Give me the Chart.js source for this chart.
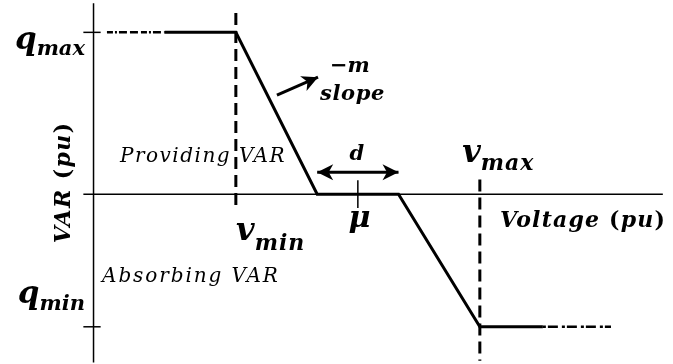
<!DOCTYPE html>
<html>
<head>
<meta charset="utf-8">
<script src="https://cdn.jsdelivr.net/npm/chart.js@4.4.1/dist/chart.umd.min.js"></script>
<style>
  html, body { margin: 0; padding: 0; background: #fff; }
  #wrap { width: 673px; height: 364px; }
</style>
</head>
<body>
<div id="wrap"><canvas id="droopChart" width="673" height="364"></canvas></div>
<script>
// volt-var droop curve with a deadband d around mu
const vMin = 0.94;
const mu = 1.0;
const deadband = 0.04;
const vMax = 1.06;
const qMax = 1.0;
const qMin = -0.82;

// breakpoints of the solid droop curve
const curveV = [0.905, vMin, mu - deadband / 2, mu + deadband / 2, vMax, 1.091];
const curveQ = [qMax, qMax, 0, 0, qMin, qMin];

// dashed continuations at both ends
const leftExtV = [0.8766, 0.905];
const rightExtV = [1.091, 1.1245];

// axes
const axisV = [0.865, 1.15];
const axisQ = [1.18, -1.04];
const qAxisAt = 0.87;
const tickV = [0.865, 0.8735];

// arrows: deadband width and slope pointer
const dArrowV = [mu - deadband / 2, mu + deadband / 2];
const dArrowQ = [0.136, 0.136];
const slopeArrowV = [0.9602, 0.9804];
const slopeArrowQ = [0.612, 0.723];

const pts = (xs, ys) => xs.map((x, i) => ({ x: x, y: Array.isArray(ys) ? ys[i] : ys }));

const line = (data, width, dash, extra) => Object.assign({
  data: data,
  showLine: true,
  borderColor: '#000',
  borderWidth: width,
  borderDash: dash || [],
  borderCapStyle: 'butt',
  pointRadius: 0,
  tension: 0
}, extra || {});

const SERIF = '"DejaVu Serif", serif';

// text runs: [text, font, baseline shift in px, letter spacing]
const bi = (size) => `italic bold ${size}px ${SERIF}`;
const bu = (size) => `bold ${size}px ${SERIF}`;
const it = (size) => `italic ${size}px ${SERIF}`;

const labels = [
  { x: 0.8658, y: 0.896, align: 'right', runs: [['q', bi(31), 0], ['max', bi(21), 6]] },
  { x: 0.8658, y: -0.674, align: 'right', runs: [['q', bi(31), 0], ['min', bi(21), 7]] },
  { x: 0.9401, y: -0.284, align: 'left', runs: [['v', bi(32), 0], ['min', bi(22), 10, 1]] },
  { x: 1.0513, y: 0.198, align: 'left', runs: [['v', bi(32), 0], ['max', bi(22), 8, 1]] },
  { x: mu + 0.0008, y: -0.204, align: 'center', runs: [['μ', bi(30), 0]] },
  { x: mu - 0.0005, y: 0.210, align: 'center', runs: [['d', bi(21), 0]] },
  { x: 0.9863, y: 0.754, align: 'left', runs: [['−', bu(21), 0], ['m', bi(21), 0]] },
  { x: 0.9814, y: 0.581, align: 'left', runs: [['slope', bi(21), 0, 0.6]] },
  { x: 1.0699, y: -0.204, align: 'left', runs: [['Voltage ', bi(22), 0, 1.2], ['(', bu(22), 0, 1.2], ['pu', bi(22), 0, 1.2], [')', bu(22), 0]] },
  { x: 0.8584, y: 0.068, align: 'center', rotate: true, runs: [['VAR ', bi(22), 0, 1.4], ['(', bu(22), 0, 1.4], ['pu', bi(22), 0, 1.4], [')', bu(22), 0]] },
  { x: 0.883, y: 0.198, align: 'left', runs: [['Providing VAR', it(20), 0, 1.5]] },
  { x: 0.8742, y: -0.544, align: 'left', runs: [['Absorbing VAR', it(20), 0, 1.9]] }
];

function drawHead(ctx, x0, y0, x1, y1) {
  const ang = Math.atan2(y1 - y0, x1 - x0);
  const len = 16, half = 8;
  ctx.save();
  ctx.translate(x1, y1);
  ctx.rotate(ang);
  ctx.beginPath();
  ctx.moveTo(0, 0);
  ctx.lineTo(-len, -half);
  ctx.lineTo(-len * 0.72, 0);
  ctx.lineTo(-len, half);
  ctx.closePath();
  ctx.fillStyle = '#000';
  ctx.fill();
  ctx.restore();
}

const annotate = {
  id: 'annotate',
  afterDatasetsDraw(chart) {
    const ctx = chart.ctx;
    const xs = chart.scales.x, ys = chart.scales.y;

    // arrow heads on the arrow datasets
    chart.data.datasets.forEach((ds, i) => {
      if (!ds.heads) return;
      const p = chart.getDatasetMeta(i).data;
      const a = p[0], b = p[p.length - 1];
      drawHead(ctx, a.x, a.y, b.x, b.y);
      if (ds.heads === 'both') drawHead(ctx, b.x, b.y, a.x, a.y);
    });

    labels.forEach(l => {
      const px = xs.getPixelForValue(l.x);
      const py = ys.getPixelForValue(l.y);
      ctx.save();
      ctx.fillStyle = '#000';
      ctx.textBaseline = 'alphabetic';
      const widths = l.runs.map(r => {
        ctx.font = r[1];
        ctx.letterSpacing = (r[3] || 0) + 'px';
        return ctx.measureText(r[0]).width;
      });
      const total = widths.reduce((s, w) => s + w, 0);
      ctx.translate(px, py);
      if (l.rotate) ctx.rotate(-Math.PI / 2);
      let cx = l.align === 'right' ? -total : l.align === 'center' ? -total / 2 : 0;
      l.runs.forEach((r, i) => {
        ctx.font = r[1];
        ctx.letterSpacing = (r[3] || 0) + 'px';
        ctx.fillText(r[0], cx, r[2]);
        cx += widths[i];
      });
      ctx.restore();
    });
  }
};

new Chart(document.getElementById('droopChart'), {
  type: 'scatter',
  data: {
    datasets: [
      line(pts(axisV, 0), 1.5),
      line(pts([qAxisAt, qAxisAt], axisQ), 1.5),
      line(pts(tickV, qMax), 1.5),
      line(pts(tickV, qMin), 1.5),
      line(pts([mu, mu], [0.086, -0.086]), 1.5),
      line(pts([vMin, vMin], [1.12, -0.09]), 3, [12, 6]),
      line(pts([vMax, vMax], [0.09, -1.03]), 3, [12, 6]),
      line(pts(leftExtV, qMax), 2.5, [6, 2, 2, 2, 8, 3, 8, 3]),
      line(pts(rightExtV, qMin), 2.5, [3, 2, 10, 4]),
      line(pts(curveV, curveQ), 3, [], { borderJoinStyle: 'miter' }),
      line(pts(dArrowV, dArrowQ), 3, [], { heads: 'both' }),
      line(pts(slopeArrowV, slopeArrowQ), 3, [], { heads: 'end' })
    ]
  },
  options: {
    responsive: false,
    animation: false,
    layout: { padding: 0 },
    plugins: { legend: { display: false }, tooltip: { enabled: false } },
    scales: {
      x: { type: 'linear', min: 0.824, max: 1.155, display: false },
      y: { type: 'linear', min: -1.05, max: 1.2, display: false }
    }
  },
  plugins: [annotate]
});
</script>
</body>
</html>
